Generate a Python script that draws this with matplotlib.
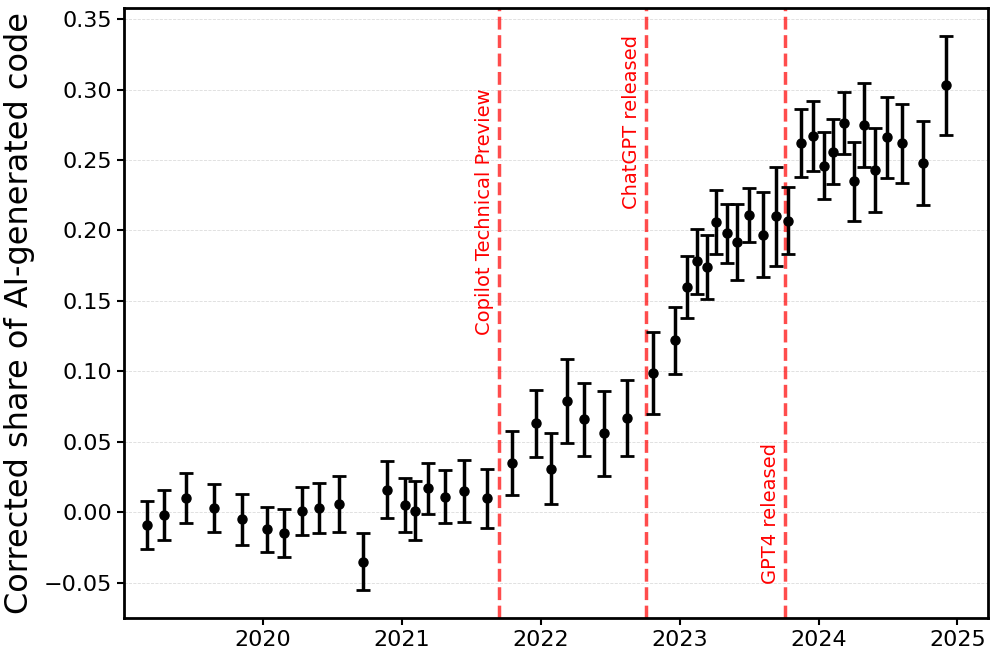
import matplotlib
matplotlib.use("Agg")
import matplotlib.pyplot as plt
import numpy as np

# decimal year of each estimate
dates = [2019.167, 2019.289, 2019.447, 2019.649, 2019.850, 2020.030, 2020.153,
         2020.282, 2020.404, 2020.548, 2020.721, 2020.894, 2021.023, 2021.095,
         2021.188, 2021.311, 2021.447, 2021.613, 2021.793, 2021.966, 2022.074,
         2022.189, 2022.311, 2022.455, 2022.620, 2022.808, 2022.966, 2023.052,
         2023.124, 2023.196, 2023.261, 2023.340, 2023.412, 2023.498, 2023.599,
         2023.692, 2023.779, 2023.872, 2023.958, 2024.037, 2024.102, 2024.181,
         2024.253, 2024.325, 2024.404, 2024.491, 2024.599, 2024.750, 2024.915]
share = [-0.009, -0.002, 0.010, 0.003, -0.005, -0.012, -0.015, 0.001, 0.003,
         0.006, -0.035, 0.016, 0.005, 0.001, 0.017, 0.011, 0.015, 0.010, 0.035,
         0.063, 0.031, 0.079, 0.066, 0.056, 0.067, 0.099, 0.122, 0.160, 0.178,
         0.174, 0.206, 0.198, 0.192, 0.211, 0.197, 0.210, 0.207, 0.262, 0.267,
         0.246, 0.256, 0.276, 0.235, 0.275, 0.243, 0.266, 0.262, 0.248, 0.303]
err = [0.017, 0.018, 0.018, 0.017, 0.018, 0.016, 0.017, 0.017, 0.018, 0.020,
       0.020, 0.020, 0.019, 0.021, 0.018, 0.019, 0.022, 0.021, 0.023, 0.024,
       0.025, 0.030, 0.026, 0.030, 0.027, 0.029, 0.024, 0.022, 0.023, 0.023,
       0.023, 0.021, 0.027, 0.019, 0.030, 0.035, 0.024, 0.024, 0.025, 0.024,
       0.023, 0.022, 0.028, 0.030, 0.030, 0.029, 0.028, 0.030, 0.035]

events = ["Copilot Technical Preview", "ChatGPT released", "GPT4 released"]
event_dates = [2021.70, 2022.755, 2023.757]
label_y = [0.126, 0.215, -0.051]

fig = plt.figure(figsize=(9.96, 6.58), dpi=100)
ax = fig.add_axes([0.1245, 0.061, 0.8675, 0.927])

ax.errorbar(dates, share, yerr=err, fmt='o', color='black', markersize=6.5,
            elinewidth=2.5, capsize=5, capthick=2, zorder=3)

for name, d, ly in zip(events, event_dates, label_y):
    ax.axvline(d, color='red', alpha=0.7, linestyle='--', linewidth=2.5, zorder=2)
    ax.text(d - 0.035, ly, name, rotation=90, color='red', fontsize=14,
            ha='right', va='bottom')

ax.set_xlim(2019.0, 2025.22)
ax.set_ylim(-0.075, 0.358)
ax.set_xticks([2020, 2021, 2022, 2023, 2024, 2025])
ax.set_yticks(np.arange(-0.05, 0.351, 0.05))
ax.tick_params(labelsize=16, width=1.5, length=5)
ax.grid(axis='y', color='lightgray', linestyle='--', linewidth=0.6, alpha=0.8)
for s in ax.spines.values():
    s.set_linewidth(2)
ax.set_ylabel("Corrected share of AI-generated code", fontsize=23, labelpad=6)

fig.savefig("out.png", dpi=100)
